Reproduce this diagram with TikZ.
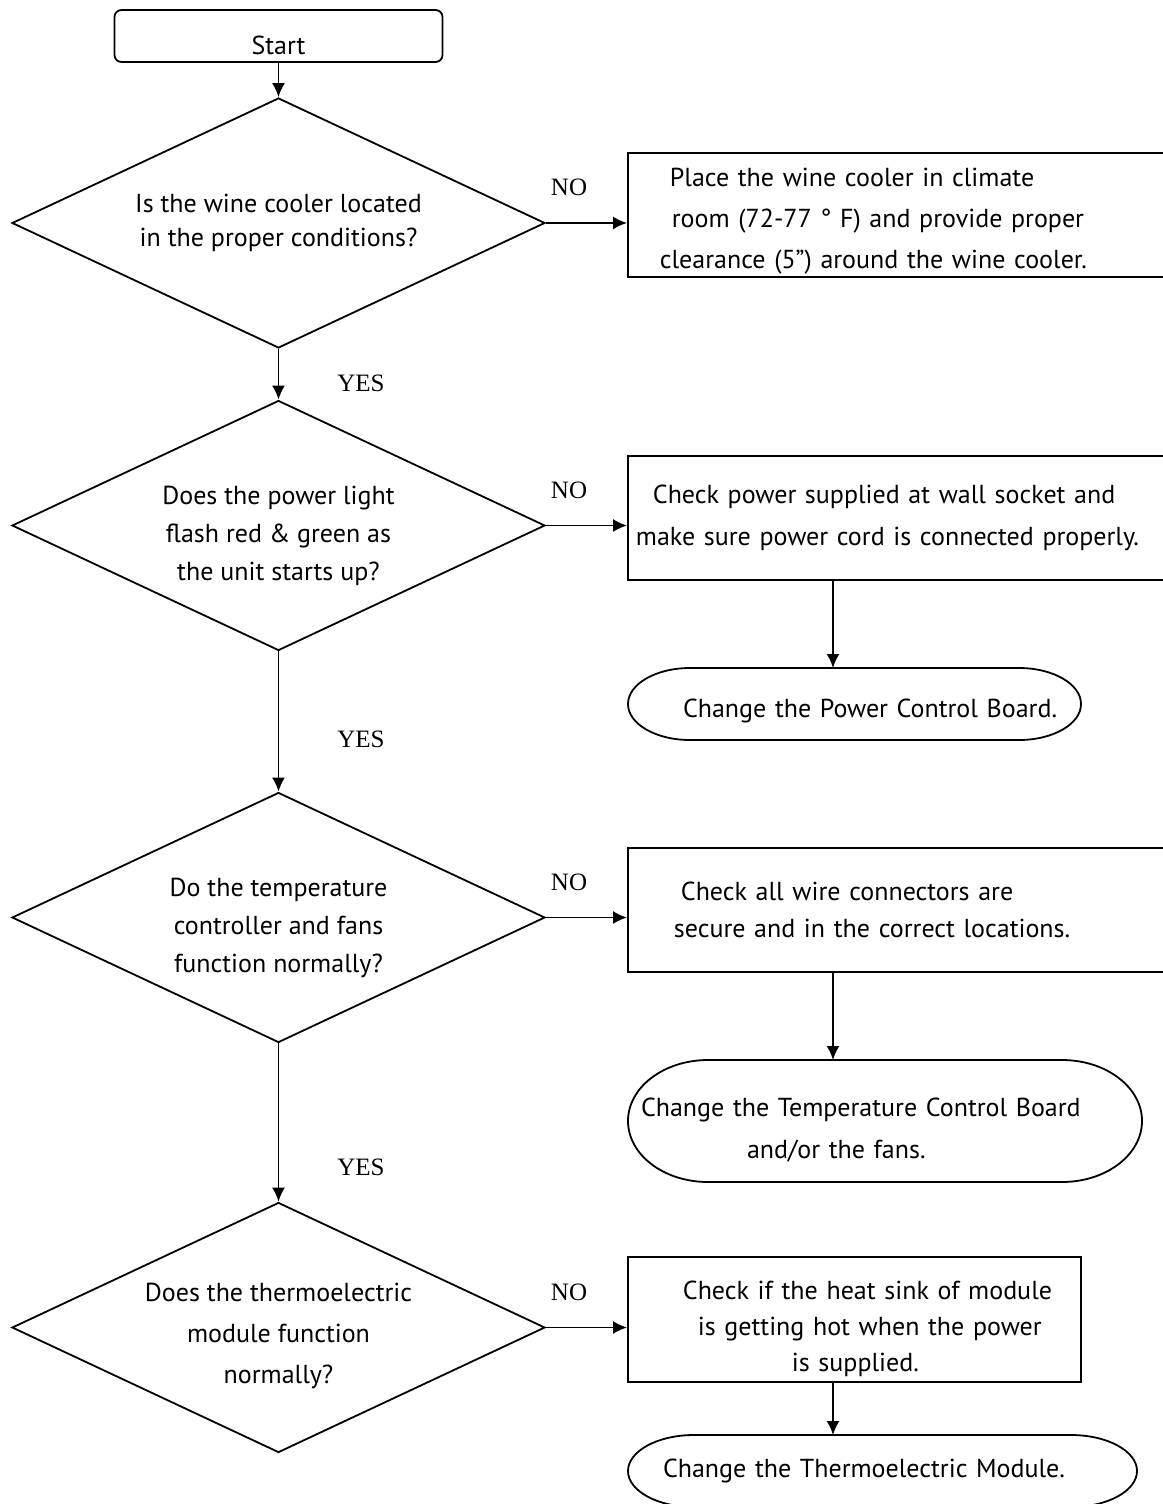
\documentclass[tikz,border=0pt]{standalone}
\usepackage{fontspec}
\setmainfont{PT Sans}
\newfontfamily\ynfont{Liberation Serif}
\usetikzlibrary{shapes.geometric,arrows.meta}

\newcommand\termline[3]{\draw ([xshift=#2pt]#1.north west) -- ([xshift=-#2pt]#1.north east)
  arc[start angle=90,end angle=-90,x radius=#2pt,y radius=#3pt] -- ([xshift=#2pt]#1.south west)
  arc[start angle=270,end angle=90,x radius=#2pt,y radius=#3pt] -- cycle;}

\begin{document}
\begin{tikzpicture}[x=1pt,y=-1pt,line width=1.8pt,font=\fontsize{26}{38}\selectfont,
  startbox/.style={draw,rounded corners=7pt,minimum width=328pt,minimum height=52pt,inner sep=0pt},
  decision/.style={draw,diamond,aspect=2.13,minimum width=533pt,minimum height=250pt,inner sep=0pt,align=center},
  actbox/.style={draw,anchor=north west,align=left,inner xsep=8pt,inner ysep=0pt,minimum height=124pt,text width=#1},
  termbox/.style={anchor=north west,align=left,inner xsep=8pt,inner ysep=0pt,outer sep=0pt,text width=#1},
  yesno/.style={font=\ynfont\fontsize{25}{25}\selectfont},
  arr/.style={-{Latex[length=14pt,width=13pt]}}]
\useasboundingbox (0,0) rectangle (1162,1504);
\coordinate (ax) at (833,0);

\node[startbox] (start) at (278.5,36) {\raisebox{-19pt}[0pt][0pt]{Start}};
\node[decision,font=\fontsize{26}{34}\selectfont] (q1) at (278.5,223) {\rule{0pt}{16pt}Is the wine cooler located\\ in the proper conditions?};
\node[decision] (q2) at (278.5,525.5) {\rule{0pt}{40pt}Does the power light\\flash red \& green as\\the unit starts up?};
\node[decision] (q3) at (278.5,917.5) {\rule{0pt}{40pt}Do the temperature\\controller and fans\\function normally?};
\node[decision,font=\fontsize{26}{41}\selectfont] (q4) at (278.5,1327.5) {\rule{0pt}{36pt}Does the thermoelectric\\module function\\normally?};

\node[actbox=557pt,font=\fontsize{26}{41}\selectfont] (b1) at (627,152) {\hspace*{34pt}\rule{0pt}{30pt}Place the wine cooler in climate\\\hspace*{36pt}room (72-77 ° F) and provide proper\\\hspace*{24pt}clearance (5”) around the wine cooler.};
\node[actbox=557pt,font=\fontsize{26}{42}\selectfont] (b2) at (627,455) {\hspace*{17pt}Check power supplied at wall socket and\\make sure power cord is connected properly.\\[6pt]};
\node[actbox=557pt,font=\fontsize{26}{37}\selectfont] (b3) at (627,847) {\hspace*{45pt}Check all wire connectors are\\\hspace*{38pt}secure and in the correct locations.\\[20pt]};
\node[actbox=437pt,minimum height=125pt,font=\fontsize{26}{36}\selectfont] (b4) at (627,1256) {\hspace*{47pt}\rule{0pt}{38pt}Check if the heat sink of module\\\hspace*{62pt}is getting hot when the power\\\hspace*{156pt}is supplied.};

\node[termbox=437pt,minimum height=72pt] (e1) at (628,668) {\hspace*{47pt}\rule{0pt}{32pt}Change the Power Control Board.};
\node[termbox=498pt,minimum height=122pt,font=\fontsize{26}{42}\selectfont] (e2) at (628,1060) {\hspace*{5pt}\rule{0pt}{36pt}Change the Temperature Control Board\\\hspace*{111pt}and/or the fans.};
\node[termbox=493pt,minimum height=72pt] (e3) at (628,1435) {\hspace*{27pt}Change the Thermoelectric Module.};
\termline{e1}{62}{36}
\termline{e2}{80}{61}
\termline{e3}{66}{36}

\node[yesno] (no1) at (569,187) {NO};
\node[yesno] (no2) at (569,490) {NO};
\node[yesno] (no3) at (569,882) {NO};
\node[yesno] (no4) at (569,1292) {NO};
\node[yesno] (yes1) at (361,383) {YES};
\node[yesno] (yes2) at (361,739) {YES};
\node[yesno] (yes3) at (361,1167) {YES};

\draw[arr] (start) -- (q1);
\draw[arr] (q1) -- (q2);
\draw[arr] (q2) -- (q3);
\draw[arr] (q3) -- (q4);
\draw[arr] (q1.east) -- (q1.east -| b1.west);
\draw[arr] (q2.east) -- (q2.east -| b2.west);
\draw[arr] (q3.east) -- (q3.east -| b3.west);
\draw[arr] (q4.east) -- (q4.east -| b4.west);
\draw[arr] (b2.south -| ax) -- (e1.north -| ax);
\draw[arr] (b3.south -| ax) -- (e2.north -| ax);
\draw[arr] (b4.south -| ax) -- (e3.north -| ax);
\end{tikzpicture}
\end{document}
